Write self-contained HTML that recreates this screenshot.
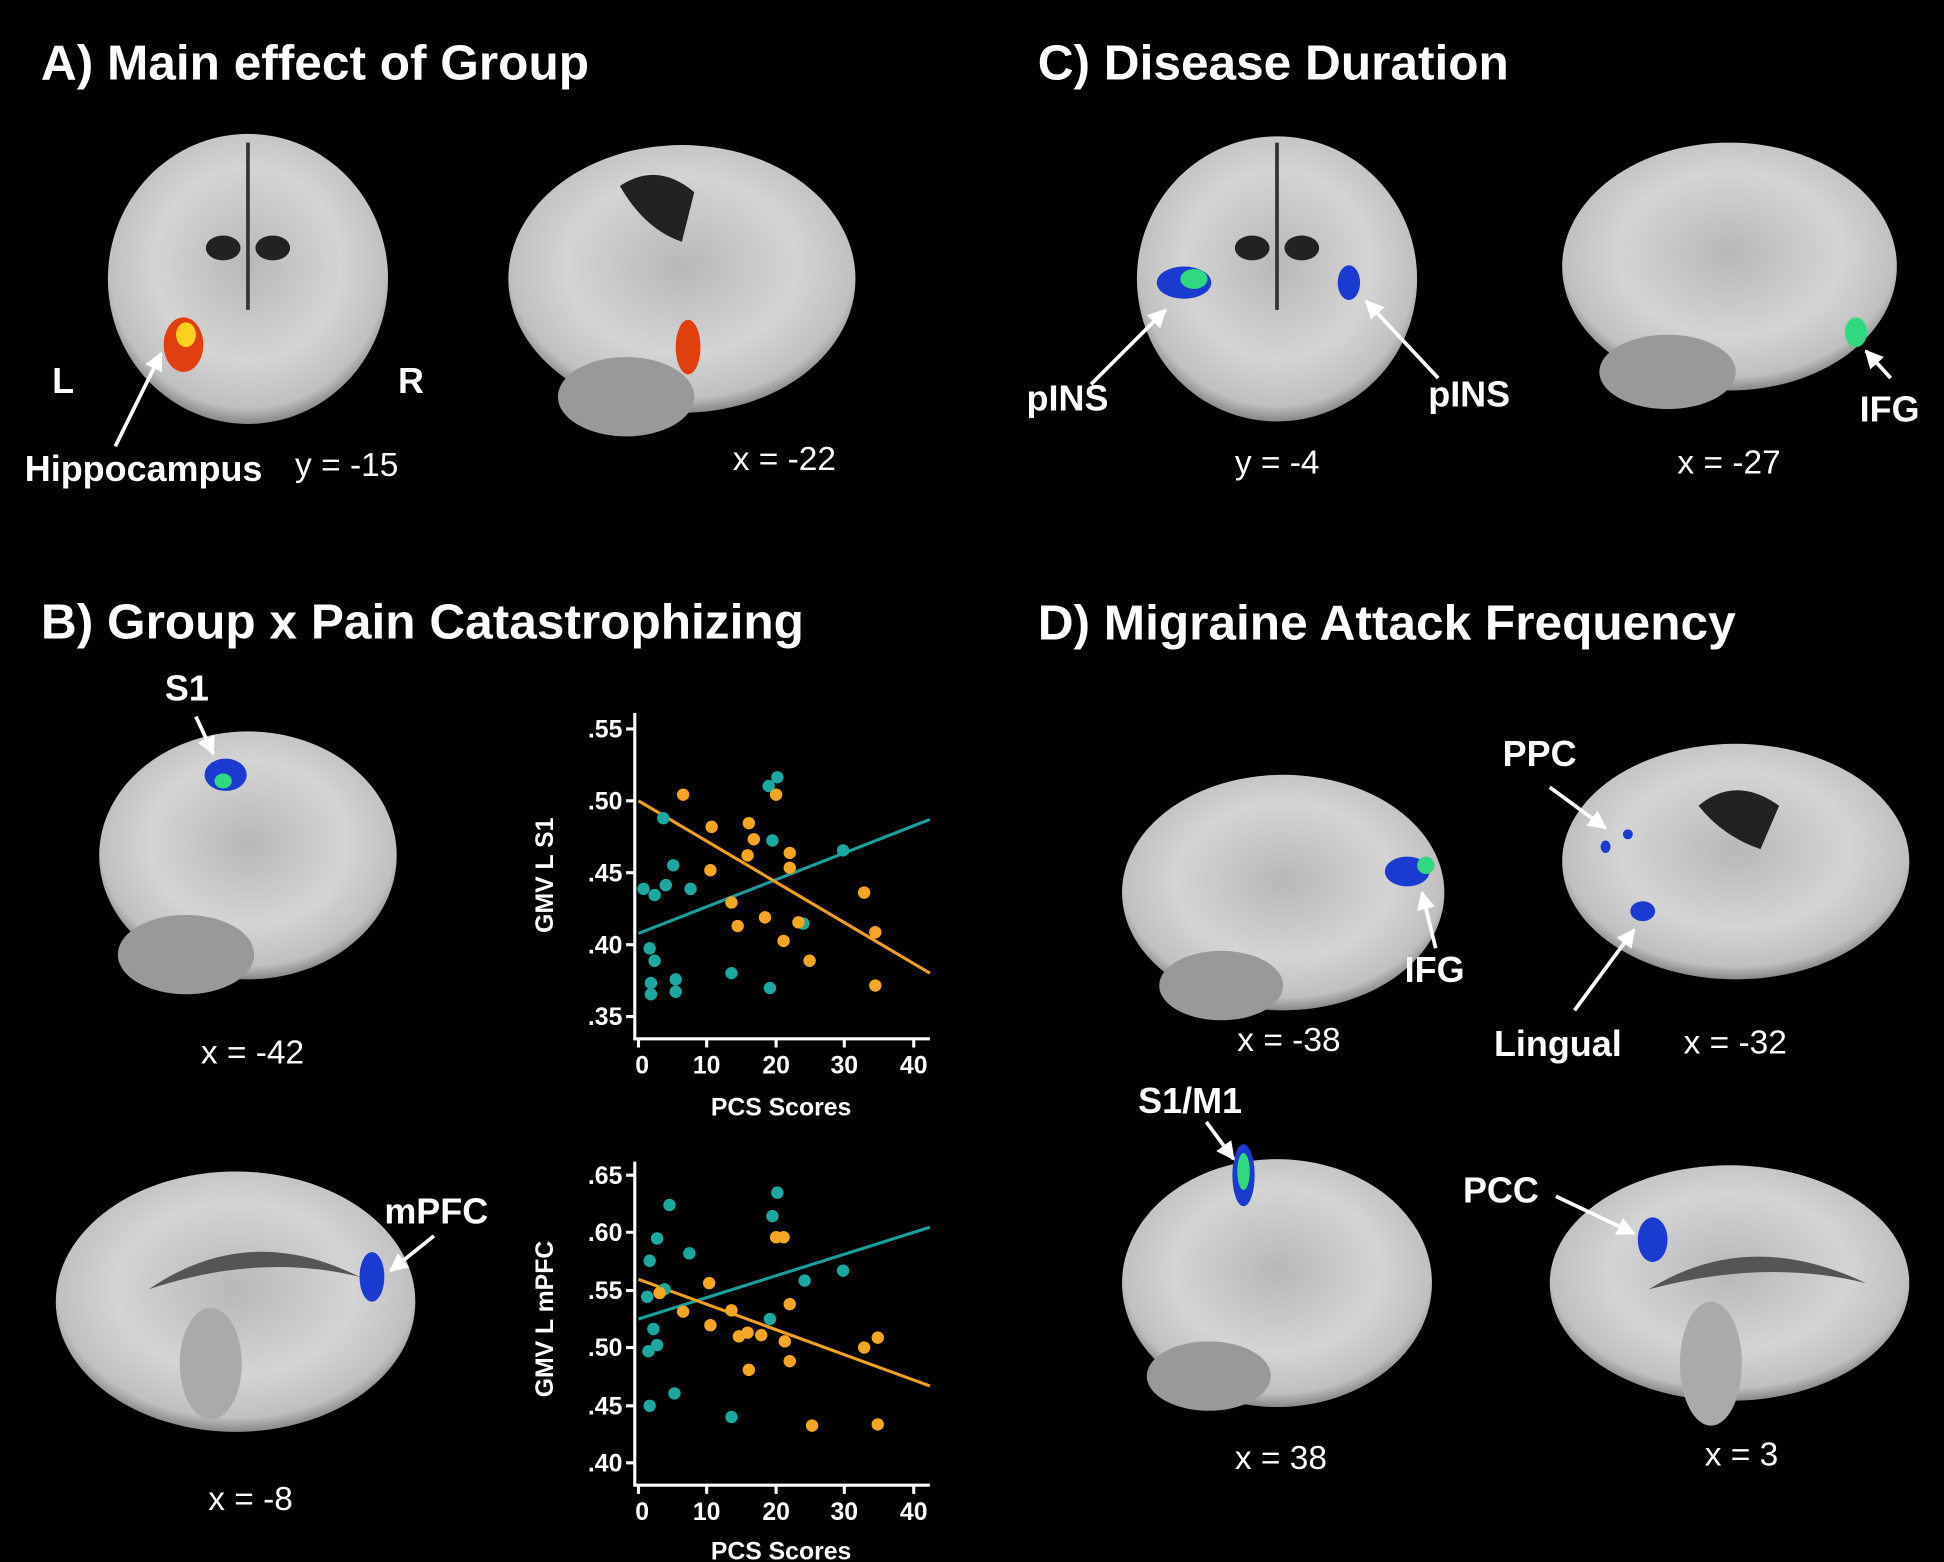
<!DOCTYPE html>
<html><head><meta charset="utf-8">
<style>
html,body{margin:0;padding:0;background:#000;}
svg{display:block}
text{font-family:"Liberation Sans",Arial,sans-serif;fill:#fff}
.t{font-size:40px;font-weight:bold}
.l{font-size:29px;font-weight:bold}
.c{font-size:27px}
.k{font-size:20px;font-weight:bold;fill:#fff}
</style></head><body>
<svg width="1944" height="1562" viewBox="0 0 1568 1260" preserveAspectRatio="none" xmlns="http://www.w3.org/2000/svg">
<defs>
<radialGradient id="g" cx="50%" cy="45%" r="55%">
<stop offset="0" stop-color="#b8b8b8"/><stop offset="0.6" stop-color="#d4d4d4"/><stop offset="0.9" stop-color="#c0c0c0"/><stop offset="1" stop-color="#888"/>
</radialGradient>
<marker id="a" viewBox="0 0 10 10" refX="9" refY="5" markerWidth="5" markerHeight="5" orient="auto"><path d="M0,0L10,5L0,10z" fill="#fff"/></marker>
</defs>
<rect width="1568" height="1260" fill="#000"/>
<text class="t" x="33" y="64">A) Main effect of Group</text>
<text class="t" x="837" y="64">C) Disease Duration</text>
<text class="t" x="33" y="515">B) Group x Pain Catastrophizing</text>
<text class="t" x="837" y="516">D) Migraine Attack Frequency</text>

<ellipse cx="200" cy="225" rx="113" ry="117" fill="url(#g)"/>
<path d="M200 115 L200 250" stroke="#333" stroke-width="3"/>
<ellipse cx="180" cy="200" rx="14" ry="10" fill="#222"/><ellipse cx="220" cy="200" rx="14" ry="10" fill="#222"/>
<ellipse cx="148" cy="278" rx="16" ry="22" fill="#e04010"/><ellipse cx="150" cy="270" rx="8" ry="10" fill="#ffd020"/>
<ellipse cx="550" cy="225" rx="140" ry="108" fill="url(#g)"/>
<ellipse cx="505" cy="320" rx="55" ry="32" fill="#999"/>
<path d="M500 150 q30 -20 60 5 l-10 40 q-30 -10 -50 -45z" fill="#222"/>
<ellipse cx="555" cy="280" rx="10" ry="22" fill="#e04010"/>
<text class="l" x="42" y="317">L</text><text class="l" x="321" y="317">R</text>
<line x1="93" y1="360" x2="130" y2="285" stroke="#fff" stroke-width="3" marker-end="url(#a)"/>
<text class="l" x="20" y="388">Hippocampus</text>
<text class="c" x="238" y="384">y = -15</text>
<text class="c" x="591" y="379">x = -22</text>

<ellipse cx="1030" cy="225" rx="113" ry="115" fill="url(#g)"/>
<path d="M1030 115 L1030 250" stroke="#333" stroke-width="3"/>
<ellipse cx="1010" cy="200" rx="14" ry="10" fill="#222"/><ellipse cx="1050" cy="200" rx="14" ry="10" fill="#222"/>
<ellipse cx="955" cy="228" rx="22" ry="13" fill="#1a3ad0"/><ellipse cx="963" cy="225" rx="11" ry="8" fill="#30d880"/>
<ellipse cx="1088" cy="228" rx="9" ry="14" fill="#1a3ad0"/>
<ellipse cx="1395" cy="215" rx="135" ry="100" fill="url(#g)"/>
<ellipse cx="1345" cy="300" rx="55" ry="30" fill="#999"/>
<ellipse cx="1497" cy="268" rx="9" ry="12" fill="#30d880"/>
<line x1="880" y1="310" x2="940" y2="250" stroke="#fff" stroke-width="3" marker-end="url(#a)"/>
<line x1="1160" y1="305" x2="1102" y2="243" stroke="#fff" stroke-width="3" marker-end="url(#a)"/>
<line x1="1525" y1="305" x2="1505" y2="283" stroke="#fff" stroke-width="3" marker-end="url(#a)"/>
<text class="l" x="828" y="331">pINS</text><text class="l" x="1152" y="328">pINS</text><text class="l" x="1500" y="340">IFG</text>
<text class="c" x="996" y="382">y = -4</text><text class="c" x="1353" y="382">x = -27</text>

<ellipse cx="200" cy="690" rx="120" ry="100" fill="url(#g)"/>
<ellipse cx="150" cy="770" rx="55" ry="32" fill="#999"/>
<ellipse cx="182" cy="625" rx="17" ry="13" fill="#1a3ad0"/><ellipse cx="180" cy="630" rx="7" ry="6" fill="#30d880"/>
<line x1="158" y1="578" x2="172" y2="608" stroke="#fff" stroke-width="3" marker-end="url(#a)"/>
<text class="l" x="133" y="565">S1</text>
<text class="c" x="162" y="858">x = -42</text>
<ellipse cx="190" cy="1050" rx="145" ry="105" fill="url(#g)"/>
<path d="M120 1040 q80 -55 170 -10 q-80 -20 -170 10z" fill="#555"/>
<ellipse cx="170" cy="1100" rx="25" ry="45" fill="#aaa"/>
<ellipse cx="300" cy="1030" rx="10" ry="20" fill="#1a3ad0"/>
<line x1="350" y1="997" x2="315" y2="1025" stroke="#fff" stroke-width="3" marker-end="url(#a)"/>
<text class="l" x="310" y="987">mPFC</text>
<text class="c" x="168" y="1218">x = -8</text>

<ellipse cx="1035" cy="720" rx="130" ry="95" fill="url(#g)"/>
<ellipse cx="985" cy="795" rx="50" ry="28" fill="#999"/>
<ellipse cx="1135" cy="703" rx="18" ry="12" fill="#1a3ad0"/><ellipse cx="1150" cy="698" rx="7" ry="7" fill="#30d880"/>
<line x1="1158" y1="765" x2="1147" y2="720" stroke="#fff" stroke-width="3" marker-end="url(#a)"/>
<text class="l" x="1133" y="792">IFG</text><text class="c" x="998" y="848">x = -38</text>
<ellipse cx="1400" cy="695" rx="140" ry="95" fill="url(#g)"/>
<path d="M1370 650 q30 -25 65 0 l-15 35 q-30 -10 -50 -35z" fill="#222"/>
<ellipse cx="1325" cy="735" rx="10" ry="8" fill="#1a3ad0"/>
<ellipse cx="1295" cy="683" rx="4" ry="5" fill="#1a3ad0"/><ellipse cx="1313" cy="673" rx="4" ry="4" fill="#1a3ad0"/>
<line x1="1250" y1="635" x2="1295" y2="668" stroke="#fff" stroke-width="3" marker-end="url(#a)"/>
<line x1="1270" y1="815" x2="1318" y2="750" stroke="#fff" stroke-width="3" marker-end="url(#a)"/>
<text class="l" x="1212" y="618">PPC</text><text class="l" x="1205" y="852">Lingual</text><text class="c" x="1358" y="850">x = -32</text>
<ellipse cx="1030" cy="1035" rx="125" ry="100" fill="url(#g)"/>
<ellipse cx="975" cy="1110" rx="50" ry="28" fill="#999"/>
<ellipse cx="1003" cy="948" rx="9" ry="25" fill="#1a3ad0"/><ellipse cx="1003" cy="945" rx="5" ry="15" fill="#30d880"/>
<line x1="973" y1="905" x2="995" y2="935" stroke="#fff" stroke-width="3" marker-end="url(#a)"/>
<text class="l" x="918" y="898">S1/M1</text><text class="c" x="996" y="1185">x = 38</text>
<ellipse cx="1395" cy="1035" rx="145" ry="95" fill="url(#g)"/>
<path d="M1330 1040 q80 -50 175 -5 q-80 -20 -175 5z" fill="#555"/>
<ellipse cx="1380" cy="1100" rx="25" ry="50" fill="#aaa"/>
<ellipse cx="1333" cy="1000" rx="12" ry="18" fill="#1a3ad0"/>
<line x1="1255" y1="965" x2="1318" y2="995" stroke="#fff" stroke-width="3" marker-end="url(#a)"/>
<text class="l" x="1180" y="970">PCC</text><text class="c" x="1375" y="1182">x = 3</text>

<g stroke="#fff" stroke-width="2.5" fill="none">
<path d="M512 575 V838 H750"/>
<path d="M505 588h7M505 646h7M505 704h7M505 762h7M505 820h7"/>
<path d="M515 838v7M570 838v7M626 838v7M681 838v7M737 838v7"/>
</g>
<g class="k" text-anchor="end"><text x="502" y="595">.55</text><text x="502" y="653">.50</text><text x="502" y="711">.45</text><text x="502" y="769">.40</text><text x="502" y="827">.35</text></g>
<g class="k" text-anchor="middle"><text x="518" y="866">0</text><text x="570" y="866">10</text><text x="626" y="866">20</text><text x="681" y="866">30</text><text x="737" y="866">40</text>
<text x="630" y="900">PCS Scores</text>
<text transform="translate(446 706) rotate(-90)">GMV  L S1</text></g>
<line x1="515" y1="753" x2="750" y2="661" stroke="#1a9e9e" stroke-width="2.5"/>
<line x1="515" y1="646" x2="750" y2="785" stroke="#f0a020" stroke-width="2.5"/>
<g fill="#1aa8a0">
<circle cx="627" cy="627" r="5"/><circle cx="620" cy="634" r="5"/><circle cx="535" cy="660" r="5"/><circle cx="519" cy="717" r="5"/><circle cx="528" cy="722" r="5"/><circle cx="537" cy="714" r="5"/><circle cx="557" cy="717" r="5"/><circle cx="543" cy="698" r="5"/><circle cx="524" cy="765" r="5"/><circle cx="528" cy="775" r="5"/><circle cx="525" cy="793" r="5"/><circle cx="525" cy="802" r="5"/><circle cx="545" cy="790" r="5"/><circle cx="545" cy="800" r="5"/><circle cx="590" cy="785" r="5"/><circle cx="621" cy="797" r="5"/><circle cx="648" cy="745" r="5"/><circle cx="680" cy="686" r="5"/><circle cx="623" cy="678" r="5"/></g>
<g fill="#f5a623">
<circle cx="551" cy="641" r="5"/><circle cx="626" cy="641" r="5"/><circle cx="574" cy="667" r="5"/><circle cx="604" cy="664" r="5"/><circle cx="573" cy="702" r="5"/><circle cx="603" cy="690" r="5"/><circle cx="608" cy="677" r="5"/><circle cx="637" cy="688" r="5"/><circle cx="637" cy="700" r="5"/><circle cx="590" cy="728" r="5"/><circle cx="595" cy="747" r="5"/><circle cx="617" cy="740" r="5"/><circle cx="632" cy="759" r="5"/><circle cx="644" cy="744" r="5"/><circle cx="653" cy="775" r="5"/><circle cx="697" cy="720" r="5"/><circle cx="706" cy="752" r="5"/><circle cx="706" cy="795" r="5"/></g>

<g stroke="#fff" stroke-width="2.5" fill="none">
<path d="M512 937 V1198 H750"/>
<path d="M505 948h7M505 994h7M505 1041h7M505 1087h7M505 1134h7M505 1180h7"/>
<path d="M515 1198v7M570 1198v7M626 1198v7M681 1198v7M737 1198v7"/>
</g>
<g class="k" text-anchor="end"><text x="502" y="955">.65</text><text x="502" y="1001">.60</text><text x="502" y="1048">.55</text><text x="502" y="1094">.50</text><text x="502" y="1141">.45</text><text x="502" y="1187">.40</text></g>
<g class="k" text-anchor="middle"><text x="518" y="1226">0</text><text x="570" y="1226">10</text><text x="626" y="1226">20</text><text x="681" y="1226">30</text><text x="737" y="1226">40</text>
<text x="630" y="1258">PCS Scores</text>
<text transform="translate(446 1064) rotate(-90)">GMV  L  mPFC</text></g>
<line x1="515" y1="1064" x2="750" y2="990" stroke="#1a9e9e" stroke-width="2.5"/>
<line x1="515" y1="1032" x2="750" y2="1118" stroke="#f0a020" stroke-width="2.5"/>
<g fill="#1aa8a0">
<circle cx="540" cy="972" r="5"/><circle cx="627" cy="962" r="5"/><circle cx="623" cy="981" r="5"/><circle cx="530" cy="999" r="5"/><circle cx="556" cy="1011" r="5"/><circle cx="524" cy="1017" r="5"/><circle cx="536" cy="1040" r="5"/><circle cx="522" cy="1046" r="5"/><circle cx="527" cy="1072" r="5"/><circle cx="523" cy="1090" r="5"/><circle cx="530" cy="1085" r="5"/><circle cx="544" cy="1124" r="5"/><circle cx="524" cy="1134" r="5"/><circle cx="590" cy="1143" r="5"/><circle cx="621" cy="1064" r="5"/><circle cx="649" cy="1033" r="5"/><circle cx="680" cy="1025" r="5"/></g>
<g fill="#f5a623">
<circle cx="626" cy="998" r="5"/><circle cx="632" cy="998" r="5"/><circle cx="532" cy="1043" r="5"/><circle cx="572" cy="1035" r="5"/><circle cx="551" cy="1058" r="5"/><circle cx="573" cy="1069" r="5"/><circle cx="590" cy="1057" r="5"/><circle cx="596" cy="1078" r="5"/><circle cx="603" cy="1075" r="5"/><circle cx="614" cy="1077" r="5"/><circle cx="637" cy="1052" r="5"/><circle cx="633" cy="1082" r="5"/><circle cx="604" cy="1105" r="5"/><circle cx="637" cy="1098" r="5"/><circle cx="655" cy="1150" r="5"/><circle cx="697" cy="1087" r="5"/><circle cx="708" cy="1079" r="5"/><circle cx="708" cy="1149" r="5"/></g>
</svg>
</body></html>
